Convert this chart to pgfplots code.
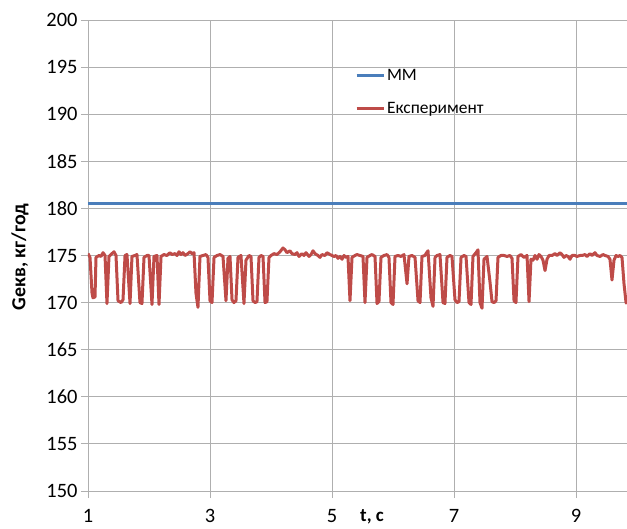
\documentclass[border=0pt]{standalone}
\usepackage{fontspec}
\setmainfont{Carlito}
\usepackage{pgfplots}
\usepackage{pgfplotstable}
\pgfplotsset{compat=1.18}
\definecolor{mmblue}{HTML}{4A7EBB}
\definecolor{expred}{HTML}{BE4B48}
\definecolor{gridgray}{HTML}{AFAFAF}
\pgfplotstableread{
t G
1.000 175.2
1.033 174.8
1.066 171.0
1.082 170.5
1.115 170.6
1.131 174.8
1.180 175.0
1.213 174.9
1.246 175.3
1.279 175.0
1.311 169.9
1.344 174.9
1.393 175.2
1.426 175.4
1.459 175.0
1.492 170.2
1.541 170.0
1.574 170.3
1.607 175.0
1.639 175.1
1.689 169.9
1.721 174.9
1.770 175.0
1.803 175.1
1.852 170.0
1.885 169.9
1.918 174.8
1.967 175.0
2.000 175.0
2.049 169.8
2.082 174.9
2.131 175.0
2.164 169.8
2.197 174.9
2.246 175.1
2.295 175.0
2.344 175.3
2.377 175.1
2.426 175.2
2.459 175.0
2.492 175.4
2.525 175.1
2.557 175.3
2.590 175.0
2.639 175.2
2.672 175.4
2.705 175.2
2.738 175.3
2.770 171.0
2.803 169.5
2.836 174.9
2.885 175.0
2.934 175.1
2.967 174.8
3.000 170.2
3.033 170.0
3.066 174.8
3.115 175.0
3.164 175.1
3.213 174.9
3.262 170.2
3.295 174.7
3.328 174.9
3.361 170.3
3.393 170.0
3.426 170.2
3.459 174.8
3.508 175.0
3.557 169.9
3.590 174.5
3.639 175.0
3.672 174.9
3.705 170.2
3.738 170.0
3.770 170.1
3.803 174.8
3.836 175.0
3.869 174.9
3.902 170.0
3.934 170.1
3.967 174.8
4.000 175.0
4.049 175.2
4.098 175.1
4.148 175.4
4.197 175.8
4.230 175.6
4.262 175.3
4.311 175.5
4.344 175.2
4.393 175.1
4.426 175.3
4.459 174.9
4.508 175.2
4.541 175.0
4.574 175.3
4.623 174.9
4.656 175.1
4.689 175.5
4.721 175.2
4.770 175.0
4.803 174.8
4.836 175.1
4.885 175.0
4.918 175.3
4.967 175.1
5.000 175.0
5.033 174.9
5.066 175.0
5.098 174.7
5.131 174.9
5.164 174.6
5.197 175.0
5.230 174.8
5.262 174.9
5.295 170.2
5.328 174.8
5.377 175.0
5.410 175.1
5.459 175.0
5.508 174.9
5.541 170.0
5.574 174.8
5.623 175.0
5.656 175.1
5.705 174.9
5.738 169.9
5.770 170.1
5.803 174.8
5.852 175.0
5.902 175.1
5.934 174.8
5.967 170.0
6.000 169.8
6.033 174.9
6.082 175.0
6.131 174.9
6.180 175.1
6.230 172.0
6.262 174.9
6.311 175.0
6.361 174.8
6.410 170.2
6.443 170.0
6.475 174.9
6.525 175.0
6.541 175.2
6.574 175.5
6.623 170.5
6.656 169.6
6.689 174.8
6.721 175.0
6.770 175.1
6.820 170.0
6.852 169.9
6.885 174.8
6.934 175.0
6.967 174.9
7.016 170.3
7.049 170.0
7.082 170.1
7.115 174.8
7.164 175.0
7.197 174.9
7.246 170.0
7.279 169.8
7.311 174.9
7.361 175.3
7.393 175.6
7.426 170.0
7.459 169.4
7.492 174.6
7.541 174.9
7.590 172.2
7.623 170.1
7.656 170.0
7.689 170.2
7.721 174.8
7.770 175.0
7.820 175.0
7.869 174.9
7.918 175.0
7.951 174.7
7.984 170.2
8.016 170.0
8.049 174.9
8.098 175.1
8.148 174.8
8.197 175.0
8.230 170.1
8.262 174.6
8.295 174.5
8.328 175.0
8.361 174.6
8.393 175.1
8.426 174.9
8.459 174.5
8.492 173.4
8.525 174.6
8.557 175.0
8.607 175.0
8.656 175.2
8.689 175.0
8.738 175.3
8.770 175.1
8.803 174.8
8.836 175.0
8.869 174.9
8.902 174.6
8.934 175.0
8.984 175.0
9.016 174.9
9.066 175.0
9.098 175.0
9.148 175.1
9.180 174.9
9.230 175.2
9.262 175.0
9.311 175.3
9.344 175.0
9.393 174.9
9.443 175.1
9.475 175.0
9.525 174.9
9.557 174.6
9.590 172.4
9.623 174.5
9.656 175.0
9.689 174.9
9.721 175.0
9.754 174.8
9.787 172.0
9.820 170.0
9.836 169.9
}\expdata
\pgfplotstableread{
t G
1.000 180.5
9.836 180.5
}\mmdata
\begin{document}
\begin{tikzpicture}
\begin{axis}[name=ax, scale only axis, width=539bp, height=471bp,
  xmin=1, xmax=9.836, ymin=150, ymax=200,
  axis x line=bottom, axis y line=left,
  axis line style={gridgray, line width=0.8bp, -},
  xtick={1,3,5,7,9}, ytick={150,155,...,200},
  grid=major, major grid style={gridgray, line width=0.8bp},
  tick style={gridgray, line width=0.8bp}, tick align=outside, major tick length=7bp,
  ticklabel style={font=\fontsize{20.5}{24}\selectfont, text=black},
  xticklabel style={yshift=-8bp},
  /pgf/number format/assume math mode=true,
  /pgf/number format/1000 sep={},
  xlabel={\textbf{t, c}}, ylabel={\textbf{Gекв, кг/год}},
  xlabel style={font=\fontsize{19}{22}\selectfont, at={(rel axis cs:0.527,-0.055)}, anchor=center},
  ylabel style={font=\fontsize{20}{24}\selectfont, at={(rel axis cs:-0.126,0.497)}, anchor=center, rotate=0},
  legend style={draw=none, fill=none, at={(rel axis cs:0.495,0.898)}, anchor=north west,
    font=\fontsize{17.5}{21}\selectfont, row sep=18bp, inner sep=0pt,
    nodes={inner xsep=2bp, inner ysep=1bp}},
  legend cell align=left,
  legend image code/.code={\draw[#1, line width=3bp] (0bp,0bp) -- (27bp,0bp);},
]
\addplot[mmblue, line width=3bp] table[x=t, y=G] {\mmdata};
\addlegendentry{MM}
\addplot[expred, line width=3bp, line join=round] table[x=t, y=G] {\expdata};
\addlegendentry{Експеримент}
\end{axis}
\pgfresetboundingbox
\path ([xshift=-88bp, yshift=-38bp]ax.south west) rectangle ([yshift=20bp]ax.north east);
\end{tikzpicture}
\end{document}
